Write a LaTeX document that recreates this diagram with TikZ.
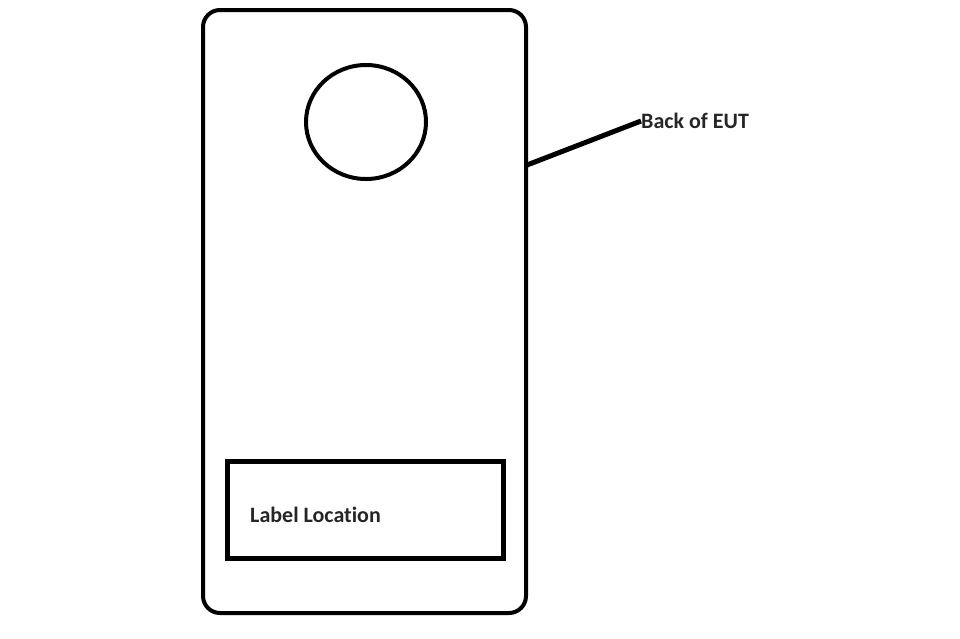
\documentclass[tikz,border=0pt]{standalone}
\usepackage{fontspec}
\setmainfont[Ligatures=NoCommon]{Carlito}
\begin{document}
\begin{tikzpicture}[x=1pt,y=-1pt,
  shell/.style={draw=black,line width=4pt,rounded corners=17pt,minimum width=323pt,minimum height=603pt,inner sep=0pt},
  lens/.style={draw=black,line width=4pt,circle,minimum size=120pt,inner sep=0pt,yscale=0.95},
  labelbox/.style={draw=black,line width=5pt,minimum width=276pt,minimum height=97pt,inner sep=0pt},
  txt/.style={font=\fontsize{22}{24}\selectfont\bfseries,inner sep=0pt,text=black!85},
  leader/.style={draw=black,line width=5pt}]
\useasboundingbox (0,0) rectangle (960,638);
\node[shell] (eut) at (364.5,311.5) {};
\node[lens] (lens) at (366,122) {};
\node[labelbox] (lbl) at (365,509.5) {};
\node[txt,anchor=base west] (lbltext) at (250,522) {Label Location};
\node[txt,anchor=west] (back) at (641,121) {Back of EUT};
\coordinate (lstart) at (527,165);
\draw[leader] (lstart) -- (back.west);
\end{tikzpicture}
\end{document}
